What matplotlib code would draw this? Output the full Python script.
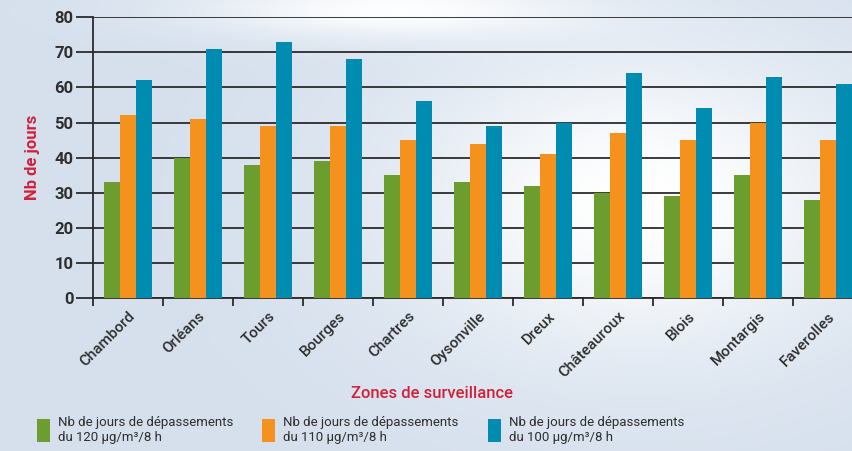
import numpy as np
import matplotlib
matplotlib.use("Agg")
import matplotlib.pyplot as plt
from matplotlib.patches import Patch

zones = ["Chambord", "Orléans", "Tours", "Bourges", "Chartres", "Oysonville",
         "Dreux", "Châteauroux", "Blois", "Montargis", "Faverolles"]
jours_120 = [33, 40, 38, 39, 35, 33, 32, 30, 29, 35, 28]
jours_110 = [52, 51, 49, 49, 45, 44, 41, 47, 45, 50, 45]
jours_100 = [62, 71, 73, 68, 56, 49, 50, 64, 54, 63, 61]
labels = ["Nb de jours de dépassements\ndu 120 µg/m³/8 h",
          "Nb de jours de dépassements\ndu 110 µg/m³/8 h",
          "Nb de jours de dépassements\ndu 100 µg/m³/8 h"]
couleurs = ["#6c9d2f", "#f5921e", "#008bb0"]

plt.rcParams['font.family'] = ['Roboto', 'DejaVu Sans']

fig = plt.figure(figsize=(8.52, 4.51), dpi=100)

# fond bleu clair avec zones blanches
bg = fig.add_axes([0, 0, 1, 1])
yy, xx = np.mgrid[0:1:200j, 0:1:400j]
blanc = np.exp(-((xx - 0.75) ** 2 / 0.08 + (yy - 0.45) ** 2 / 0.12))
blanc += 0.9 * np.exp(-((xx - 0.45) ** 2 / 0.05 + (yy - 0.02) ** 2 / 0.004))
blanc = np.clip(blanc, 0, 1)
base = np.array([0.84, 0.88, 0.93])
img = base[None, None, :] * (1 - blanc[..., None]) + blanc[..., None]
bg.imshow(img, aspect='auto', extent=[0, 1, 0, 1], origin='upper')
bg.axis('off')

ax = fig.add_axes([0.109, 0.339, 0.904, 0.623])
ax.patch.set_alpha(0)
x = np.arange(len(zones))
w = 0.225
for i, (vals, c) in enumerate(zip([jours_120, jours_110, jours_100], couleurs)):
    ax.bar(x + (i - 1) * w, vals, width=w, color=c, zorder=3, label=labels[i])

ax.set_xlim(-0.5, len(zones) - 0.5)
ax.set_ylim(0, 80)
ax.set_yticks(range(0, 81, 10))
ax.yaxis.grid(True, color="#2b2b2b", linewidth=1.3, zorder=1)
for s in ["top", "right"]:
    ax.spines[s].set_visible(False)
ax.spines["left"].set_color("#2b2b2b")
ax.spines["left"].set_linewidth(1.3)
ax.spines["bottom"].set_color("#2b2b2b")
ax.spines["bottom"].set_linewidth(1.3)
ax.tick_params(axis='y', length=12, width=1.3, color="#2b2b2b",
               labelsize=12, labelcolor="#2e2e2e", pad=2)
for t in ax.get_yticklabels():
    t.set_fontweight('bold')

ax.set_xticks(np.arange(-0.5, len(zones), 1.0))
ax.set_xticklabels([])
ax.tick_params(axis='x', length=6, width=1.3, color="#2b2b2b")
ax.set_xticks(x, minor=True)
ax.set_xticklabels(zones, minor=True, rotation=45, ha='right', rotation_mode='anchor',
                   fontsize=11, color="#2e2e2e", fontweight='medium')
ax.tick_params(axis='x', which='minor', length=0, pad=8)

ax.set_ylabel("Nb de jours", color="#d0213a", fontsize=12, fontweight='bold', labelpad=10)
fig.text(0.507, 0.128, "Zones de surveillance", color="#d0213a", fontsize=12,
         fontweight='medium', ha='center', va='center')

handles = [Patch(facecolor=c) for c in couleurs]
fig.legend(handles, labels, loc='lower left', bbox_to_anchor=(0.029, -0.01), ncol=3,
           frameon=False, fontsize=9.5, handlelength=1.0, handleheight=2.3,
           handletextpad=0.6, columnspacing=2.2, labelcolor="#2e2e2e",
           labelspacing=0.2)

fig.savefig("out.png", dpi=100)
